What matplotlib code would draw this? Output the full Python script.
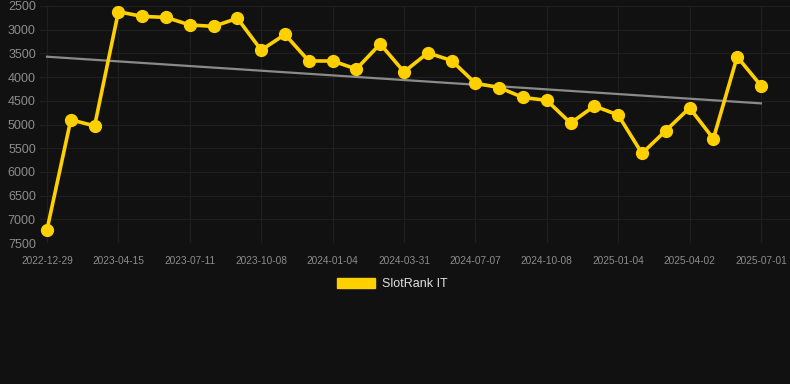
import matplotlib
matplotlib.use("Agg")
import matplotlib.pyplot as plt
from matplotlib.patches import Patch
import numpy as np

plt.rcParams['font.family'] = ['Liberation Sans', 'DejaVu Sans']

tick_labels = ["2022-12-29", "2023-04-15", "2023-07-11", "2023-10-08", "2024-01-04",
               "2024-03-31", "2024-07-07", "2024-10-08", "2025-01-04", "2025-04-02",
               "2025-07-01"]
ranks = [7220, 4900, 5030, 2620, 2720, 2740, 2900, 2930, 2760, 3430, 3100,
         3660, 3660, 3830, 3300, 3890, 3490, 3650, 4130, 4220, 4430, 4490,
         4970, 4610, 4800, 5610, 5130, 4650, 5300, 3570, 4180]
series_name = "SlotRank IT"

bg = "#111111"
yellow = "#FFD000"

fig = plt.figure(figsize=(7.9, 3.84), dpi=100, facecolor=bg)
ax = fig.add_axes([40/790, (384-243)/384, 750/790, 237/384], facecolor=bg)

x = np.arange(len(ranks))
y = np.array(ranks, dtype=float)

coef = np.polyfit(x, y, 1)
ax.plot(x, np.polyval(coef, x), color="#8a8a8a", lw=1.6, zorder=2)
ax.plot(x, y, color=yellow, lw=2.6, marker="o", ms=8.5, zorder=3)

ax.set_xlim(-0.294, 31.22)
ax.set_ylim(7500, 2500)
ax.set_yticks(np.arange(2500, 7501, 500))
ax.set_xticks(np.arange(0, len(ranks), 3))
ax.set_xticklabels(tick_labels)
ax.grid(True, color="#1f1f1f", lw=0.9)
ax.set_axisbelow(True)
for s in ax.spines.values():
    s.set_visible(False)
ax.tick_params(axis='y', length=0, pad=3, labelsize=9, labelcolor="#8c8c8c")
ax.tick_params(axis='x', length=0, pad=9, labelsize=7.3, labelcolor="#8c8c8c")

leg = fig.legend(handles=[Patch(facecolor=yellow, edgecolor=yellow)], labels=[series_name],
                 loc="center", bbox_to_anchor=(392/790, (384-284)/384), frameon=False,
                 handlelength=3.1, handleheight=0.85, handletextpad=0.5,
                 fontsize=9)
for t in leg.get_texts():
    t.set_color("#e0e0e0")

fig.savefig("out.png", dpi=100, facecolor=bg)
